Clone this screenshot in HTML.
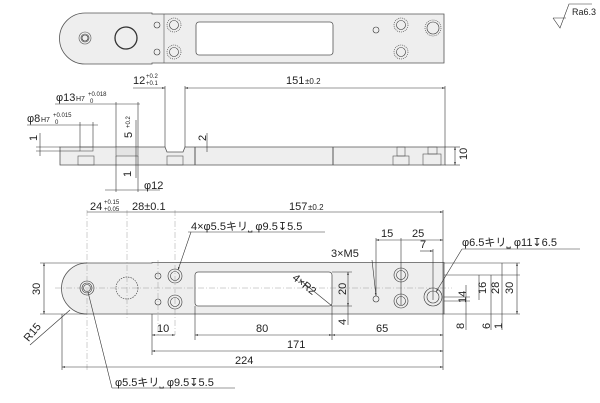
<!DOCTYPE html>
<html><head><meta charset="utf-8"><style>
html,body{margin:0;padding:0;background:#fff;}
svg{display:block}
text{font-family:"Liberation Sans","Noto Sans CJK JP",sans-serif;fill:#222;}
</style></head><body>
<svg width="600" height="403" viewBox="0 0 600 403" xmlns="http://www.w3.org/2000/svg">
<defs>
<marker id="a" viewBox="0 0 10 10" refX="10" refY="5" markerWidth="5" markerHeight="5" orient="auto-start-reverse"><path d="M0,2 L10,5 L0,8 z" fill="#333"/></marker>
</defs>
<g fill="none" stroke="#333" stroke-width="0.6">
<!-- ===== TOP VIEW ===== -->
<path d="M85,13 L152,13 L152,14 L444,14 L444,63 L152,63 L152,64 L85,64 A25.5,25.5 0 0 1 85,13 Z" fill="#eeeeee" stroke="#555" stroke-width="0.8"/>
<line x1="164" y1="14" x2="164" y2="63" stroke="#555"/>
<rect x="196" y="22" width="137" height="33" rx="3" fill="#fff" stroke="#555" stroke-width="0.8"/>
<circle cx="85" cy="38" r="6" stroke="#555"/><circle cx="85" cy="38" r="4"/><circle cx="85" cy="38" r="3"/>
<circle cx="126" cy="38" r="11" stroke="#333" stroke-width="1.3"/>
<circle cx="157" cy="25" r="3"/><circle cx="157" cy="52" r="3"/>
<circle cx="174" cy="25" r="4.5"/><circle cx="174" cy="25" r="7" stroke-dasharray="1,1"/>
<circle cx="174" cy="52" r="4.5"/><circle cx="174" cy="52" r="7" stroke-dasharray="1,1"/>
<circle cx="376" cy="30" r="3"/>
<circle cx="401" cy="25" r="4.5"/><circle cx="401" cy="25" r="7" stroke-dasharray="1,1"/>
<circle cx="401" cy="52" r="4.5"/><circle cx="401" cy="52" r="7" stroke-dasharray="1,1"/>
<circle cx="433" cy="28" r="6"/><circle cx="433" cy="28" r="8" stroke-dasharray="1,1"/>
<!-- ===== SIDE VIEW ===== -->
<path d="M60,147 L165,147 L167,152 L183,152 L185,147 L445,147 L445,165 L60,165 Z" fill="#eeeeee" stroke="#555" stroke-width="0.8"/>
<rect x="80" y="147" width="13" height="4" stroke="#555"/>
<rect x="78" y="156" width="16" height="9" stroke="#555"/>
<rect x="116" y="147" width="22" height="9" stroke="#555" fill="#e4e4e4"/>
<rect x="167" y="156" width="16" height="9" stroke="#555"/>
<line x1="195" y1="147" x2="195" y2="165" stroke="#555" stroke-width="1"/>
<line x1="333" y1="147" x2="333" y2="165" stroke="#555" stroke-width="1"/>
<rect x="393" y="156" width="16" height="9" stroke="#555"/><rect x="397" y="147" width="8" height="9" stroke="#555"/>
<rect x="423" y="154" width="18" height="11" stroke="#555"/><rect x="428" y="147" width="9" height="7" stroke="#555"/>
<!-- side dims -->
<line x1="165" y1="86" x2="165" y2="147"/><line x1="185" y1="86" x2="185" y2="147"/><line x1="445" y1="86" x2="445" y2="147"/>
<line x1="133" y1="88" x2="165" y2="88" marker-end="url(#a)"/>
<line x1="185" y1="88" x2="445" y2="88" marker-start="url(#a)" marker-end="url(#a)"/>
<line x1="116" y1="102" x2="116" y2="147"/><line x1="138" y1="102" x2="138" y2="147"/>
<line x1="55" y1="104" x2="140" y2="104"/>
<line x1="80" y1="122" x2="80" y2="147"/><line x1="93" y1="122" x2="93" y2="147"/>
<line x1="27" y1="125" x2="98" y2="125"/>
<line x1="40" y1="133" x2="40" y2="156"/><line x1="36" y1="147" x2="60" y2="147"/><line x1="36" y1="151" x2="80" y2="151"/>
<line x1="136" y1="120" x2="136" y2="178"/>
<line x1="207" y1="133" x2="207" y2="152"/>
<line x1="116" y1="156" x2="116" y2="192"/><line x1="138" y1="156" x2="138" y2="192"/>
<line x1="105" y1="190" x2="160" y2="190"/>
<line x1="445" y1="147" x2="460" y2="147"/><line x1="445" y1="165" x2="460" y2="165"/>
<line x1="455" y1="147" x2="455" y2="165" marker-start="url(#a)" marker-end="url(#a)"/>
<!-- ===== BOTTOM VIEW ===== -->
<path d="M87,263 L152,263 L152,262.5 L444,262.5 L444,314 L152,314 L87,314 A25.5,25.5 0 0 1 87,263 Z" fill="#eeeeee" stroke="#555" stroke-width="0.8"/>
<rect x="195" y="272" width="137" height="34" rx="3" fill="#fff" stroke="#555" stroke-width="0.8"/>
<circle cx="87" cy="288" r="7"/><circle cx="87" cy="288" r="5"/><circle cx="87" cy="288" r="3.5"/>
<circle cx="127" cy="288" r="11" stroke-dasharray="1.5,1"/>
<circle cx="158" cy="276" r="3"/><circle cx="158" cy="302" r="3"/>
<circle cx="175" cy="276" r="4.5"/><circle cx="175" cy="276" r="7"/>
<circle cx="175" cy="302" r="4.5"/><circle cx="175" cy="302" r="7"/>
<circle cx="376" cy="299" r="3"/>
<circle cx="401" cy="275" r="4.5"/><circle cx="401" cy="275" r="7"/>
<circle cx="401" cy="301" r="4.5"/><circle cx="401" cy="301" r="7"/>
<circle cx="433" cy="297" r="6"/><circle cx="433" cy="297" r="9"/>
<!-- center lines -->
<g stroke="#888" stroke-dasharray="6,2,1,2" stroke-width="0.4">
<line x1="55" y1="288" x2="452" y2="288"/>
<line x1="87" y1="210" x2="87" y2="370"/>
<line x1="127" y1="210" x2="127" y2="320"/>
<line x1="158" y1="260" x2="158" y2="335"/>
<line x1="175" y1="210" x2="175" y2="335"/>
</g>
<!-- bottom dims -->
<line x1="443" y1="210" x2="443" y2="370"/>
<line x1="87" y1="212" x2="443" y2="212" marker-end="url(#a)"/>
<line x1="376" y1="238" x2="376" y2="296"/><line x1="401" y1="238" x2="401" y2="305"/>
<line x1="376" y1="240" x2="443" y2="240" marker-start="url(#a)" marker-end="url(#a)"/>
<line x1="433" y1="249" x2="433" y2="300"/>
<line x1="420" y1="251" x2="433" y2="251" marker-end="url(#a)"/>
<line x1="40" y1="263" x2="87" y2="263"/><line x1="40" y1="314" x2="87" y2="314"/>
<line x1="44" y1="263" x2="44" y2="314" marker-start="url(#a)" marker-end="url(#a)"/>
<line x1="70" y1="310" x2="30" y2="345"/>
<line x1="332" y1="306" x2="300" y2="280"/>
<line x1="332" y1="272" x2="352" y2="272"/><line x1="332" y1="306" x2="352" y2="306"/>
<line x1="348" y1="272" x2="348" y2="306" marker-start="url(#a)" marker-end="url(#a)"/>
<line x1="348" y1="306" x2="348" y2="325"/>
<line x1="444" y1="275" x2="520" y2="275"/><line x1="444" y1="301" x2="470" y2="301"/>
<line x1="444" y1="263" x2="520" y2="263"/><line x1="444" y1="314" x2="520" y2="314"/>
<line x1="444" y1="297" x2="470" y2="297"/>
<line x1="466" y1="285" x2="466" y2="330"/>
<line x1="479" y1="275" x2="479" y2="300"/>
<line x1="491" y1="275" x2="491" y2="330"/>
<line x1="502" y1="263" x2="502" y2="330"/>
<line x1="517" y1="263" x2="517" y2="314" marker-start="url(#a)" marker-end="url(#a)"/>
<line x1="152" y1="314" x2="152" y2="355"/><line x1="195" y1="306" x2="195" y2="340"/><line x1="332" y1="306" x2="332" y2="340"/>
<line x1="62" y1="314" x2="62" y2="370"/>
<line x1="152" y1="335" x2="175" y2="335" marker-start="url(#a)" marker-end="url(#a)"/>
<line x1="195" y1="335" x2="332" y2="335" marker-start="url(#a)" marker-end="url(#a)"/>
<line x1="332" y1="335" x2="443" y2="335" marker-start="url(#a)" marker-end="url(#a)"/>
<line x1="152" y1="351" x2="443" y2="351" marker-start="url(#a)" marker-end="url(#a)"/>
<line x1="62" y1="367" x2="443" y2="367" marker-start="url(#a)" marker-end="url(#a)"/>
<!-- leaders -->
<line x1="191" y1="232" x2="178" y2="270" marker-end="url(#a)"/>
<line x1="188" y1="232" x2="325" y2="232"/>
<line x1="372" y1="260" x2="376" y2="296" marker-end="url(#a)"/>
<line x1="462" y1="249" x2="436" y2="292" marker-end="url(#a)"/>
<line x1="462" y1="249" x2="580" y2="249"/>
<line x1="88" y1="292" x2="112" y2="388"/>
<line x1="112" y1="388" x2="235" y2="388"/>
<!-- roughness -->
<path d="M553,18 L566,18 M553,18 L560,28 L569,4 L592,4"/>
</g>
<g font-size="11">
<text x="572" y="15" font-size="9">Ra6.3</text>
<!-- side -->
<text x="133" y="84">12</text><text x="146" y="78" font-size="6">+0.2</text><text x="146" y="85" font-size="6">+0.1</text>
<text x="286" y="84">151</text><text x="305" y="84" font-size="8">±0.2</text>
<text x="56" y="101">φ13</text><text x="76" y="101" font-size="7">H7</text><text x="88" y="96" font-size="6">+0.018</text><text x="90" y="103" font-size="6">0</text>
<text x="27" y="122">φ8</text><text x="41" y="122" font-size="7">H7</text><text x="53" y="117" font-size="6">+0.015</text><text x="55" y="124" font-size="6">0</text>
<text x="30" y="142" transform="rotate(-90 33 138)">1</text>
<text x="124" y="138" transform="rotate(-90 128 134)">5</text><text x="126" y="124" font-size="6" transform="rotate(-90 130 124)">+0.2</text>
<text x="198" y="141" transform="rotate(-90 202 137)">2</text>
<text x="123" y="177" transform="rotate(-90 127 173)">1</text>
<text x="144" y="189">φ12</text>
<text x="459" y="160" transform="rotate(-90 463 156)">10</text>
<!-- bottom -->
<text x="90" y="210">24</text><text x="104" y="204" font-size="6">+0.15</text><text x="104" y="211" font-size="6">+0.05</text>
<text x="132" y="210">28±0.1</text>
<text x="289" y="210">157</text><text x="308" y="210" font-size="8">±0.2</text>
<text x="191" y="230">4×φ5.5キリ⎵ φ9.5↧5.5</text>
<text x="381" y="237">15</text><text x="412" y="237">25</text>
<text x="420" y="248">7</text>
<text x="331" y="257">3×M5</text>
<text x="462" y="246">φ6.5キリ⎵ φ11↧6.5</text>
<text x="30" y="293" transform="rotate(-90 36 289)">30</text>
<text x="22" y="336" transform="rotate(-50 32 332)">R15</text>
<text x="292" y="286" transform="rotate(38 302 282)">4×R2</text>
<text x="336" y="293" transform="rotate(-90 342 289)">20</text>
<text x="338" y="325" transform="rotate(-90 342 321)">4</text>
<text x="456" y="301" transform="rotate(-90 462 297)">14</text>
<text x="476" y="292" transform="rotate(-90 482 288)">16</text>
<text x="489" y="292" transform="rotate(-90 495 288)">28</text>
<text x="503" y="292" transform="rotate(-90 509 288)">30</text>
<text x="456" y="329" transform="rotate(-90 460 325)">8</text>
<text x="482" y="329" transform="rotate(-90 486 325)">6</text>
<text x="494" y="329" transform="rotate(-90 498 325)">1</text>
<text x="157" y="332">10</text>
<text x="256" y="332">80</text>
<text x="376" y="332">65</text>
<text x="287" y="348">171</text>
<text x="235" y="364">224</text>
<text x="115" y="386">φ5.5キリ⎵ φ9.5↧5.5</text>
</g>
</svg>
</body></html>
